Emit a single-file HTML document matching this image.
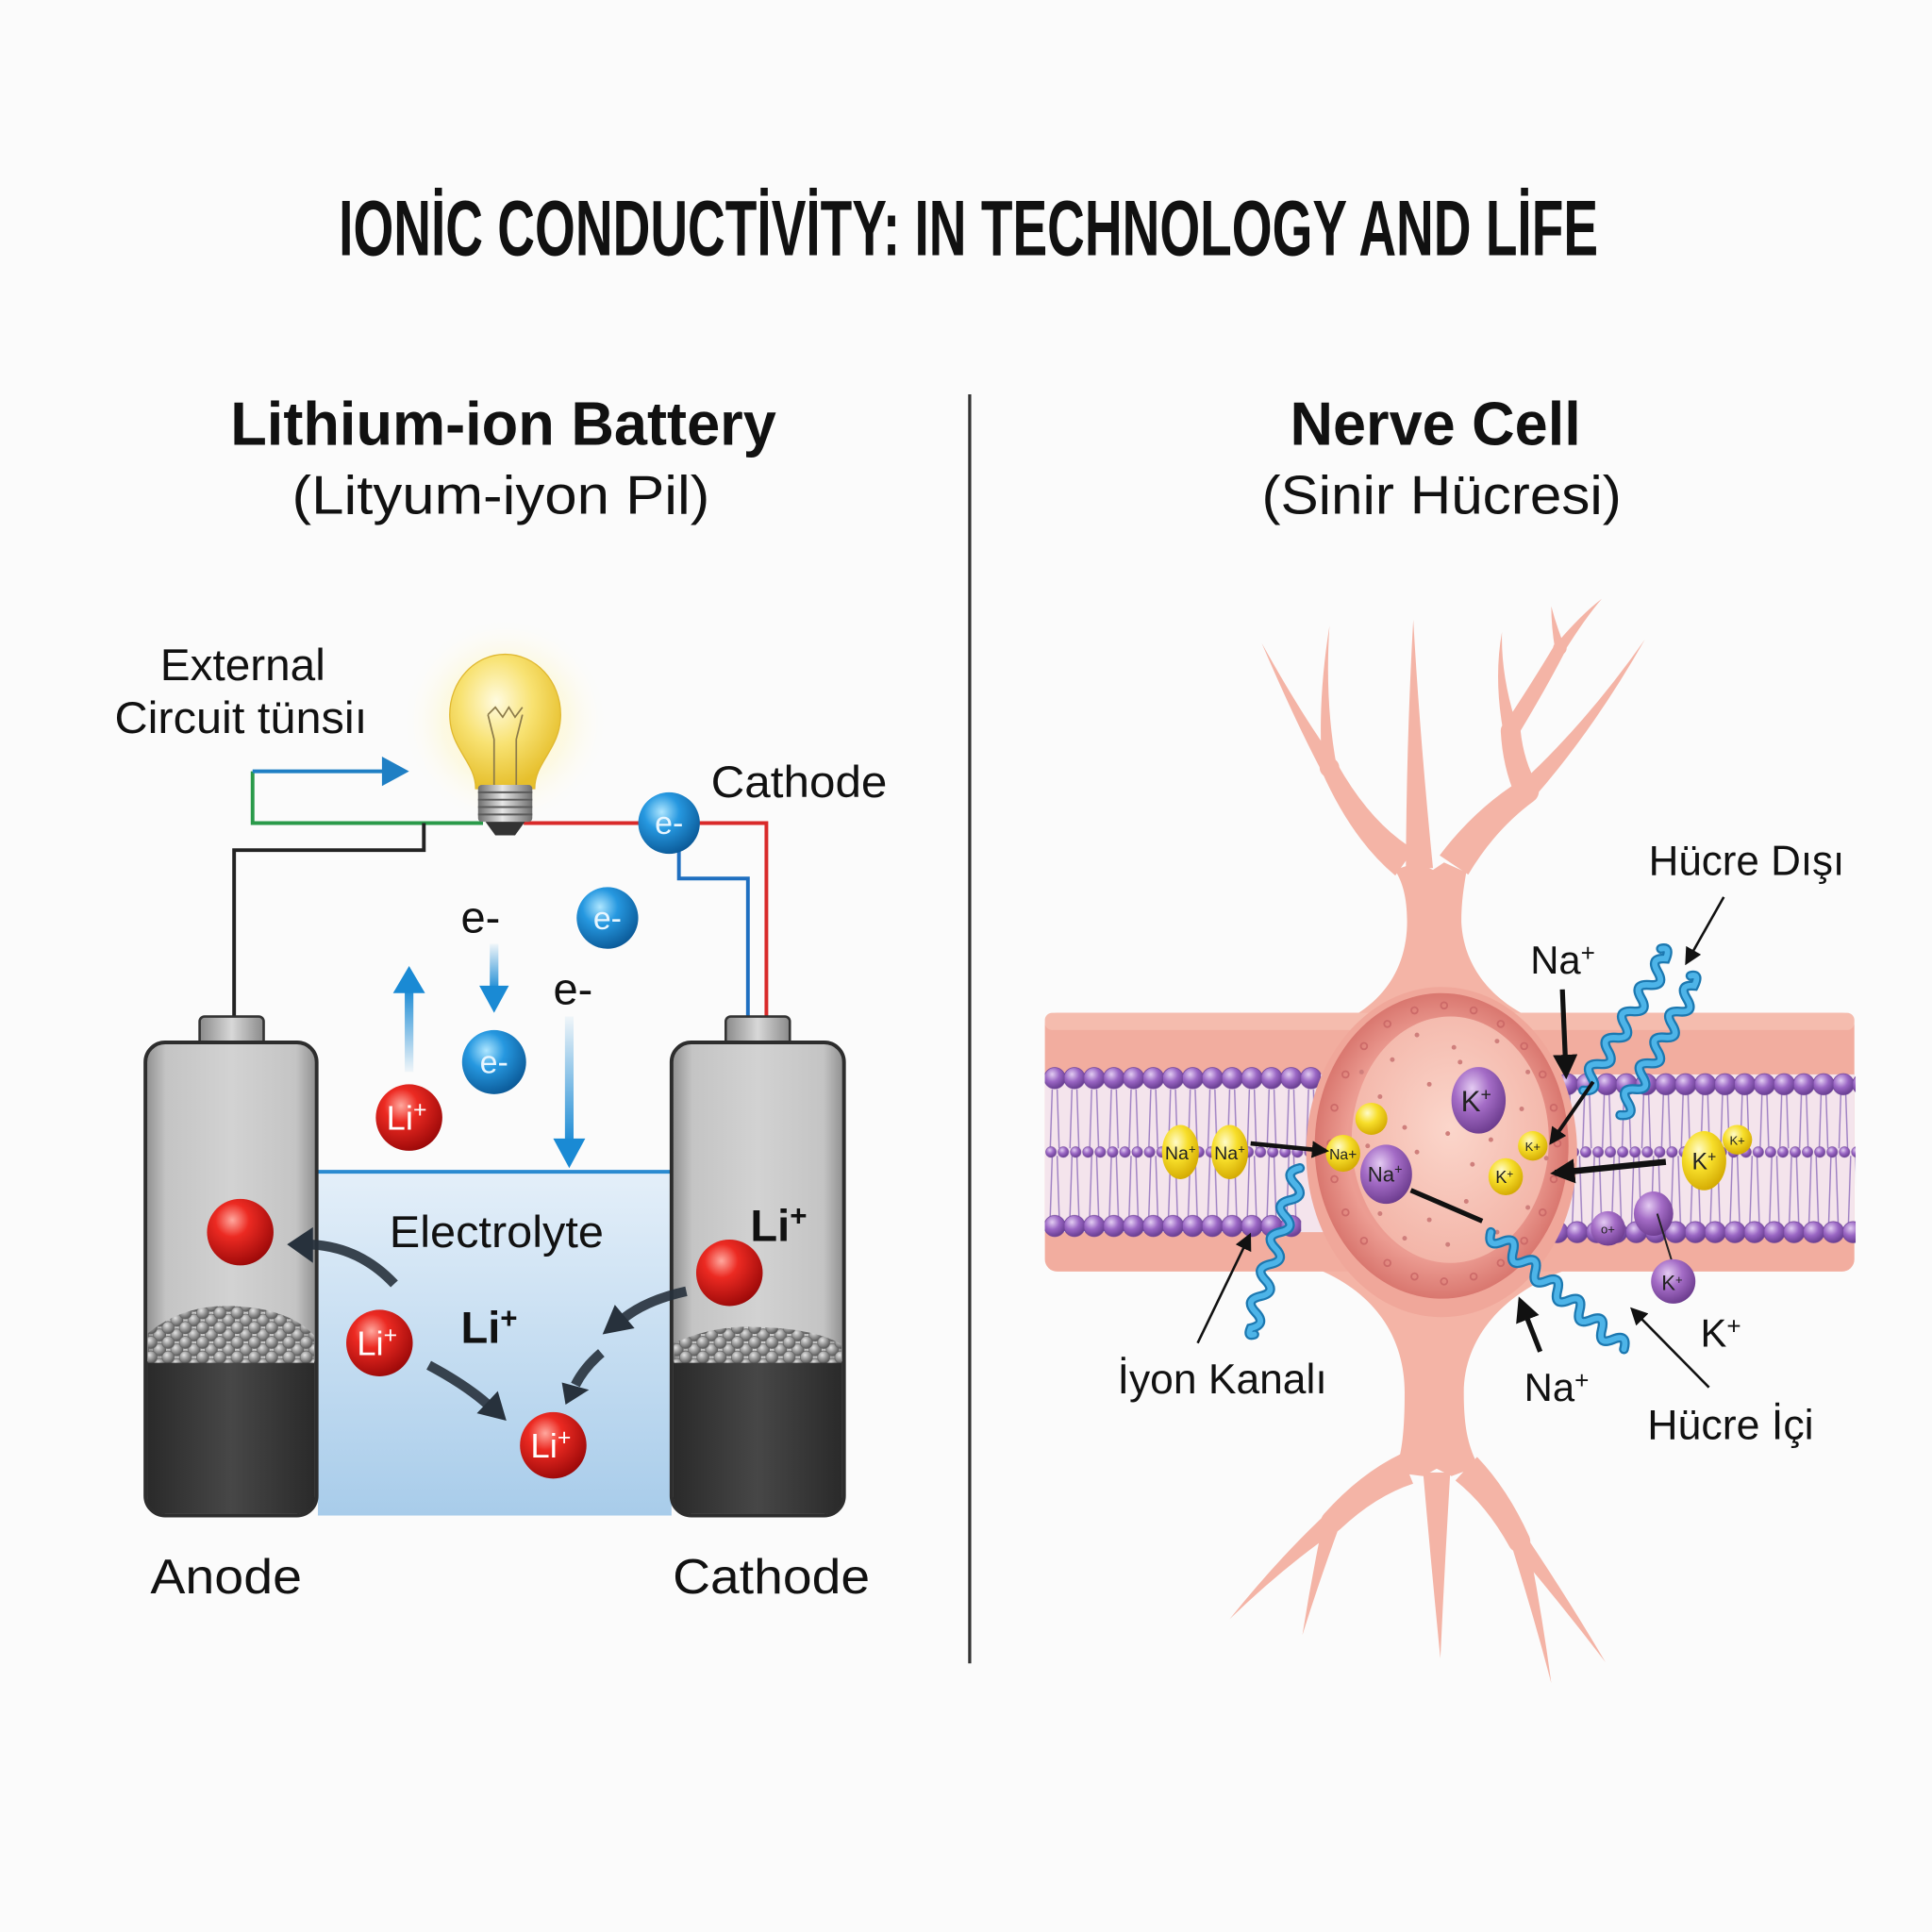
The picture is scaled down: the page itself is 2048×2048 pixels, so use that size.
<!DOCTYPE html>
<html><head><meta charset="utf-8"><style>
html,body{margin:0;padding:0;background:#fbfbfb;}
svg{display:block;}
text{font-family:"Liberation Sans","DejaVu Sans",sans-serif;}
</style></head><body>
<svg xmlns="http://www.w3.org/2000/svg" width="2048" height="2048" viewBox="0 0 1568 1568">
<defs>
<radialGradient id="rg" cx="0.38" cy="0.32" r="0.72"><stop offset="0" stop-color="#ffa89e"/><stop offset="0.35" stop-color="#ec2a22"/><stop offset="1" stop-color="#9a0808"/></radialGradient>
<radialGradient id="bg" cx="0.38" cy="0.32" r="0.72"><stop offset="0" stop-color="#aee6ff"/><stop offset="0.4" stop-color="#2698e0"/><stop offset="1" stop-color="#0a5896"/></radialGradient>
<radialGradient id="yg" cx="0.38" cy="0.32" r="0.72"><stop offset="0" stop-color="#fffbc8"/><stop offset="0.45" stop-color="#f7de2a"/><stop offset="1" stop-color="#d2a800"/></radialGradient>
<radialGradient id="pg" cx="0.38" cy="0.32" r="0.72"><stop offset="0" stop-color="#e4cbf2"/><stop offset="0.45" stop-color="#a46cc6"/><stop offset="1" stop-color="#6a3a8c"/></radialGradient>
<radialGradient id="hg" cx="0.38" cy="0.32" r="0.7"><stop offset="0" stop-color="#e2cdf2"/><stop offset="0.5" stop-color="#9a66c4"/><stop offset="1" stop-color="#673d90"/></radialGradient>
<radialGradient id="grn" cx="0.38" cy="0.32" r="0.7"><stop offset="0" stop-color="#e4e4e4"/><stop offset="0.5" stop-color="#9a9a9a"/><stop offset="1" stop-color="#555"/></radialGradient>
<radialGradient id="glow" cx="0.5" cy="0.5" r="0.5"><stop offset="0" stop-color="#fff3a0" stop-opacity="0.9"/><stop offset="0.6" stop-color="#fff6c0" stop-opacity="0.4"/><stop offset="1" stop-color="#ffffff" stop-opacity="0"/></radialGradient>
<radialGradient id="bulb" cx="0.42" cy="0.35" r="0.65"><stop offset="0" stop-color="#fffbe0"/><stop offset="0.5" stop-color="#f8e272"/><stop offset="1" stop-color="#e6bf2c"/></radialGradient>
<linearGradient id="bat" x1="0" y1="0" x2="1" y2="0"><stop offset="0" stop-color="#8e8e8e"/><stop offset="0.12" stop-color="#c4c4c4"/><stop offset="0.5" stop-color="#d2d2d2"/><stop offset="0.88" stop-color="#c4c4c4"/><stop offset="1" stop-color="#8e8e8e"/></linearGradient>
<linearGradient id="cap" x1="0" y1="0" x2="1" y2="0"><stop offset="0" stop-color="#8a8a8a"/><stop offset="0.5" stop-color="#d8d8d8"/><stop offset="1" stop-color="#8a8a8a"/></linearGradient>
<linearGradient id="dark" x1="0" y1="0" x2="1" y2="0"><stop offset="0" stop-color="#2a2a2a"/><stop offset="0.5" stop-color="#474747"/><stop offset="1" stop-color="#2a2a2a"/></linearGradient>
<linearGradient id="elec" x1="0" y1="0" x2="0" y2="1"><stop offset="0" stop-color="#e4eff9"/><stop offset="1" stop-color="#a8ccea"/></linearGradient>
<linearGradient id="fadeUp" x1="0" y1="0" x2="0" y2="1"><stop offset="0" stop-color="#1a8ad4"/><stop offset="1" stop-color="#1a8ad4" stop-opacity="0.05"/></linearGradient>
<linearGradient id="fadeDown" x1="0" y1="0" x2="0" y2="1"><stop offset="0" stop-color="#1a8ad4" stop-opacity="0.05"/><stop offset="1" stop-color="#1a8ad4"/></linearGradient>
<linearGradient id="base" x1="0" y1="0" x2="1" y2="0"><stop offset="0" stop-color="#6e6e6e"/><stop offset="0.45" stop-color="#e6e6e6"/><stop offset="1" stop-color="#6e6e6e"/></linearGradient>
<radialGradient id="ring" cx="0.5" cy="0.5" r="0.5"><stop offset="0.75" stop-color="#ec9c92"/><stop offset="1" stop-color="#d9776f"/></radialGradient>
<radialGradient id="inner" cx="0.5" cy="0.45" r="0.55"><stop offset="0" stop-color="#fbd6cb"/><stop offset="1" stop-color="#f3b5a8"/></radialGradient>
<pattern id="gran" patternUnits="userSpaceOnUse" width="14" height="12">
 <g fill="url(#grn)" stroke="#606060" stroke-width="0.5">
 <circle cx="3.5" cy="3.5" r="5"/><circle cx="17.5" cy="3.5" r="5"/><circle cx="3.5" cy="15.5" r="5"/><circle cx="17.5" cy="15.5" r="5"/>
 <circle cx="10.5" cy="9.5" r="5"/><circle cx="-3.5" cy="9.5" r="5"/><circle cx="10.5" cy="-2.5" r="5"/><circle cx="-3.5" cy="-2.5" r="5"/>
 </g>
</pattern>
<pattern id="heads" patternUnits="userSpaceOnUse" width="16" height="18">
 <circle cx="8" cy="9" r="8.6" fill="url(#hg)" stroke="#6e4398" stroke-width="0.6"/>
</pattern>
<pattern id="mh" patternUnits="userSpaceOnUse" width="10" height="12">
 <circle cx="5" cy="6" r="4.3" fill="url(#hg)" stroke="#7a52a0" stroke-width="0.5"/>
</pattern>
<pattern id="tails" patternUnits="userSpaceOnUse" width="16" height="60">
 <path d="M6 0 L4 60 M10 0 L12 60" stroke="#9d7fc2" stroke-width="1.1" fill="none"/>
</pattern>
<marker id="ahs" viewBox="0 0 10 10" refX="8" refY="5" markerWidth="14" markerHeight="14" markerUnits="userSpaceOnUse" orient="auto"><path d="M0,0 L10,5 L0,10 z" fill="#111"/></marker>
<marker id="ahb" viewBox="0 0 10 10" refX="8" refY="5" markerWidth="20" markerHeight="20" markerUnits="userSpaceOnUse" orient="auto"><path d="M0,0 L10,5 L0,10 z" fill="#111"/></marker>
</defs>
<rect width="1568" height="1568" fill="#fbfbfb"/>

<!-- Titles -->
<text x="275" y="207" font-size="64" font-weight="bold" textLength="1022" lengthAdjust="spacingAndGlyphs" fill="#111">IONİC CONDUCTİVİTY: IN TECHNOLOGY AND LİFE</text>
<line x1="787" y1="320" x2="787" y2="1350" stroke="#333" stroke-width="2.5"/>
<text x="187" y="361" font-size="50" font-weight="bold" textLength="443" lengthAdjust="spacingAndGlyphs" fill="#111">Lithium-ion Battery</text>
<text x="237" y="417" font-size="44" textLength="339" lengthAdjust="spacingAndGlyphs" fill="#111">(Lityum-iyon Pil)</text>
<text x="1047" y="361" font-size="50" font-weight="bold" textLength="236" lengthAdjust="spacingAndGlyphs" fill="#111">Nerve Cell</text>
<text x="1024" y="417" font-size="44" textLength="292" lengthAdjust="spacingAndGlyphs" fill="#111">(Sinir Hücresi)</text>

<!-- ===== Battery ===== -->
<text x="130" y="552" font-size="36" textLength="134" lengthAdjust="spacingAndGlyphs" fill="#111">External</text>
<text x="93" y="595" font-size="36" textLength="205" lengthAdjust="spacingAndGlyphs" fill="#111">Circuit tünsiı</text>
<text x="577" y="647" font-size="36" textLength="143" lengthAdjust="spacingAndGlyphs" fill="#111">Cathode</text>

<!-- wires -->
<polyline points="205,626 205,668 392,668" fill="none" stroke="#2a9a4a" stroke-width="3"/>
<polyline points="205,626 316,626" fill="none" stroke="#1f7fc4" stroke-width="3"/>
<polygon points="310,614 332,626 310,638" fill="#1f7fc4"/>
<polyline points="190,826 190,690 344,690 344,668" fill="none" stroke="#222" stroke-width="3"/>
<polyline points="425,668 622,668 622,827" fill="none" stroke="#d92a2a" stroke-width="3"/>
<polyline points="551,690 551,713 607,713 607,827" fill="none" stroke="#1f6fc0" stroke-width="3"/>

<!-- bulb -->
<circle cx="410" cy="585" r="85" fill="url(#glow)"/>
<path d="M386 640 C386 618 365 608 365 580 C365 553 385 531 410 531 C435 531 455 553 455 580 C455 608 434 618 434 640 Z" fill="url(#bulb)" stroke="#e0b830" stroke-width="1"/>
<path d="M401 640 L401 600 M419 640 L419 600 M401 600 L396 580 M419 600 L424 580 M396 580 L402 574 L408 582 L413 574 L418 582 L424 574" fill="none" stroke="#8b7a4a" stroke-width="1.3"/>
<rect x="388" y="637" width="44" height="30" rx="3" fill="url(#base)"/>
<path d="M388 643 H432 M388 649 H432 M388 655 H432 M388 661 H432" stroke="#5a5a5a" stroke-width="1.5"/>
<path d="M394 667 H426 L418 678 H402 Z" fill="#333"/>

<circle cx="543" cy="668" r="25" fill="url(#bg)"/>
<text x="543" y="677" font-size="26" text-anchor="middle" fill="#e8f6ff">e-</text>

<!-- electrons & arrows -->
<text x="390" y="757" font-size="36" text-anchor="middle" fill="#111">e-</text>
<text x="465" y="815" font-size="36" text-anchor="middle" fill="#111">e-</text>
<circle cx="493" cy="745" r="25" fill="url(#bg)"/>
<text x="493" y="754" font-size="26" text-anchor="middle" fill="#e8f6ff">e-</text>
<rect x="397.5" y="766" width="7" height="38" fill="url(#fadeDown)"/>
<polygon points="389,800 401,822 413,800" fill="#1a8ad4"/>
<rect x="328.5" y="802" width="7" height="68" fill="url(#fadeUp)"/>
<polygon points="319,806 332,784 345,806" fill="#1a8ad4"/>
<rect x="458.5" y="825" width="7" height="104" fill="url(#fadeDown)"/>
<polygon points="449,924 462,948 475,924" fill="#1a8ad4"/>
<circle cx="401" cy="862" r="26" fill="url(#bg)"/>
<text x="401" y="871" font-size="26" text-anchor="middle" fill="#e8f6ff">e-</text>
<circle cx="332" cy="907" r="27" fill="url(#rg)"/>
<text x="330" y="917" font-size="28" text-anchor="middle" fill="#fff">Li<tspan font-size="19" dy="-10">+</tspan></text>

<!-- electrolyte -->
<rect x="258" y="951" width="287" height="279" fill="url(#elec)"/>
<line x1="258" y1="951" x2="545" y2="951" stroke="#2a8ad0" stroke-width="3"/>

<!-- left battery -->
<rect x="162" y="825" width="52" height="24" rx="4" fill="url(#cap)" stroke="#333" stroke-width="2"/>
<rect x="118" y="846" width="139" height="384" rx="16" fill="url(#bat)"/>
<path d="M119.5 1105 H255.5 V1214 Q255.5 1228.5 241 1228.5 H134 Q119.5 1228.5 119.5 1214 Z" fill="url(#dark)"/>
<path d="M120 1106 L120 1082 Q150 1058 190 1060 Q235 1062 255 1084 L255 1106 Z" fill="url(#gran)"/>
<rect x="118" y="846" width="139" height="384" rx="16" fill="none" stroke="#2d2d2d" stroke-width="3"/>
<!-- right battery -->
<rect x="589" y="825" width="52" height="24" rx="4" fill="url(#cap)" stroke="#333" stroke-width="2"/>
<rect x="545" y="846" width="140" height="384" rx="16" fill="url(#bat)"/>
<path d="M546.5 1105 H683.5 V1214 Q683.5 1228.5 669 1228.5 H561 Q546.5 1228.5 546.5 1214 Z" fill="url(#dark)"/>
<path d="M547 1106 L547 1090 Q580 1075 615 1077 Q660 1078 683 1091 L683 1106 Z" fill="url(#gran)"/>
<rect x="545" y="846" width="140" height="384" rx="16" fill="none" stroke="#2d2d2d" stroke-width="3"/>

<circle cx="195" cy="1000" r="27" fill="url(#rg)"/>
<circle cx="592" cy="1033" r="27" fill="url(#rg)"/>
<text x="609" y="1007" font-size="36" font-weight="bold" fill="#111">Li<tspan font-size="24" dy="-12">+</tspan></text>
<text x="316" y="1012" font-size="36" textLength="174" lengthAdjust="spacingAndGlyphs" fill="#111">Electrolyte</text>
<text x="374" y="1090" font-size="36" font-weight="bold" fill="#111">Li<tspan font-size="24" dy="-12">+</tspan></text>

<circle cx="308" cy="1090" r="27" fill="url(#rg)"/>
<text x="306" y="1100" font-size="28" text-anchor="middle" fill="#fff">Li<tspan font-size="19" dy="-10">+</tspan></text>
<circle cx="449" cy="1173" r="27" fill="url(#rg)"/>
<text x="447" y="1183" font-size="28" text-anchor="middle" fill="#fff">Li<tspan font-size="19" dy="-10">+</tspan></text>

<!-- curved dark arrows -->
<g fill="none" stroke="#27313c" stroke-width="8" stroke-linecap="butt" stroke-opacity="0.9">
 <path d="M320 1042 Q292 1012 252 1010"/>
 <path d="M557 1048 Q525 1055 506 1070"/>
 <path d="M488 1098 Q474 1110 467 1124"/>
 <path d="M348 1108 Q378 1124 396 1140"/>
</g>
<g fill="#27313c">
 <polygon points="254,996 233,1010 254,1025"/>
 <polygon points="499,1059 489,1083 515,1078"/>
 <polygon points="456,1122 459,1140 478,1128"/>
 <polygon points="387,1147 411,1153 404,1129"/>
</g>

<text x="122" y="1293" font-size="40" textLength="123" lengthAdjust="spacingAndGlyphs" fill="#111">Anode</text>
<text x="546" y="1293" font-size="40" textLength="160" lengthAdjust="spacingAndGlyphs" fill="#111">Cathode</text>

<!-- ===== Nerve Cell ===== -->
<g fill="#f4b4a6">
 <!-- top trunk -->
 <path d="M1045 842 C1115 832 1142 792 1142 748 C1142 728 1138 715 1132 706 L1150 700 L1163 706 L1172 700 L1190 708 C1188 720 1186 732 1186 748 C1188 792 1222 832 1300 842 Z"/>
 <path d="M1147.6 689.4 Q1112.6 668.5 1085.3 619.9 L1072.7 626.1 Q1097.4 681.5 1132.4 710.6 Z"/>
 <path d="M1163 704.5 Q1152.5 600 1147 503 Q1141.5 600 1141 705.5 Z"/>
 <path d="M1084.9 619.3 Q1058.2 583.4 1024 522 Q1051.8 586.6 1073.1 626.7 Z"/>
 <path d="M1084.9 622.2 Q1075 569.6 1079 508 Q1069 570.4 1073.1 623.8 Z"/>
 <path d="M1191.6 709.8 Q1213.3 673.3 1244.6 650.3 L1233.4 633.7 Q1196.7 656.7 1168.4 694.2 Z"/>
 <path d="M1244.7 647.6 Q1292.9 592.8 1335 519 Q1287.1 587.2 1233.3 636.4 Z"/>
 <path d="M1247.9 637.5 Q1236.5 617.7 1234 592.4 L1218 593.6 Q1219.5 622.3 1230.1 646.5 Z"/>
 <path d="M1231.8 591.5 Q1217.9 549.3 1219 513 Q1212.1 550.7 1220.2 594.5 Z"/>
 <path d="M1231.9 596.7 Q1255.2 558.1 1270.4 528.4 L1261.6 523.6 Q1244.8 551.9 1220.1 589.3 Z"/>
 <path d="M1269.6 528.7 Q1286.8 501.3 1300 486 Q1283.2 498.7 1262.4 523.3 Z"/>
 <path d="M1269.9 524.9 Q1263 507.5 1259 492 Q1259 508.5 1262.1 527.1 Z"/>
 <circle cx="1079" cy="623" r="8"/><circle cx="1239" cy="642" r="10"/><circle cx="1226" cy="593" r="8"/><circle cx="1266" cy="526" r="5.5"/>
 <!-- bottom trunk -->
 <path d="M1045 1022 C1115 1040 1140 1085 1140 1130 C1140 1160 1138 1180 1132 1195 L1155 1198 L1166 1192 L1178 1198 L1200 1190 C1192 1175 1188 1160 1188 1130 C1188 1085 1222 1040 1300 1022 Z"/>
 <path d="M1137.1 1179.9 Q1103.8 1195.9 1074.5 1228.7 L1087.5 1241.3 Q1116.2 1214.1 1146.9 1204.1 Z"/>
 <path d="M1076 1228.8 Q1037.5 1264.9 998 1314 Q1042.5 1271.1 1086 1241.2 Z"/>
 <path d="M1074.3 1233.1 Q1064.6 1279 1057 1327 Q1071.4 1281 1087.7 1236.9 Z"/>
 <path d="M1155 1195 Q1161.5 1270 1169 1346 Q1172.5 1270 1177 1195 Z"/>
 <path d="M1181.2 1201.6 Q1206.3 1221.5 1224.9 1255 L1241.1 1247 Q1223.7 1208.5 1198.8 1182.4 Z"/>
 <path d="M1226.2 1252.7 Q1244.6 1310.9 1259 1366 Q1251.4 1309.1 1239.8 1249.3 Z"/>
 <path d="M1227.4 1255.2 Q1267.2 1302.1 1303 1349 Q1272.8 1297.9 1238.6 1246.8 Z"/>
 <circle cx="1081" cy="1235" r="9"/><circle cx="1233" cy="1251" r="9"/>
</g>

<!-- membrane -->
<rect x="848" y="822" width="657" height="210" rx="10" fill="#f2ad9f"/>
<rect x="848" y="822" width="657" height="14" rx="6" fill="#f5bcae"/>
<rect x="848" y="872" width="657" height="128" fill="#f4e4ec"/>
<!-- tails -->
<g transform="translate(848,884)"><rect width="224" height="48" fill="url(#tails)"/></g>
<g transform="translate(848,938)"><rect width="208" height="52" fill="url(#tails)"/></g>
<g transform="translate(1264,888)"><rect width="242" height="44" fill="url(#tails)"/></g>
<g transform="translate(1256,938)"><rect width="250" height="56" fill="url(#tails)"/></g>
<!-- heads -->
<g transform="translate(848,866)"><rect width="224" height="18" fill="url(#heads)"/></g>
<g transform="translate(1264,871)"><rect width="242" height="18" fill="url(#heads)"/></g>
<g transform="translate(848,986)"><rect width="208" height="18" fill="url(#heads)"/></g>
<g transform="translate(1256,991)"><rect width="250" height="18" fill="url(#heads)"/></g>
<g transform="translate(848,929)"><rect width="220" height="12" fill="url(#mh)"/></g>
<g transform="translate(1262,929)"><rect width="244" height="12" fill="url(#mh)"/></g>

<!-- soma -->
<ellipse cx="1170" cy="935" rx="110" ry="134" fill="#f0a79a"/>
<ellipse cx="1170" cy="930" rx="103" ry="124" fill="url(#ring)"/>
<ellipse cx="1177" cy="925" rx="80" ry="100" fill="url(#inner)"/>
<g fill="none" stroke="#c86464" stroke-width="1.4" opacity="0.8">
 <circle cx="1264" cy="928" r="2.6"/><circle cx="1261" cy="957" r="2.6"/><circle cx="1252" cy="984" r="2.6"/><circle cx="1237" cy="1007" r="2.6"/><circle cx="1218" cy="1025" r="2.6"/><circle cx="1196" cy="1036" r="2.6"/><circle cx="1172" cy="1040" r="2.6"/><circle cx="1148" cy="1036" r="2.6"/><circle cx="1126" cy="1025" r="2.6"/><circle cx="1107" cy="1007" r="2.6"/><circle cx="1092" cy="984" r="2.6"/><circle cx="1083" cy="957" r="2.6"/><circle cx="1080" cy="928" r="2.6"/><circle cx="1083" cy="899" r="2.6"/><circle cx="1092" cy="872" r="2.6"/><circle cx="1107" cy="849" r="2.6"/><circle cx="1126" cy="831" r="2.6"/><circle cx="1148" cy="820" r="2.6"/><circle cx="1172" cy="816" r="2.6"/><circle cx="1196" cy="820" r="2.6"/><circle cx="1218" cy="831" r="2.6"/><circle cx="1237" cy="849" r="2.6"/><circle cx="1252" cy="872" r="2.6"/><circle cx="1261" cy="899" r="2.6"/>
</g>
<g fill="#cf7f7c">
 <circle cx="1130" cy="860" r="1.9"/><circle cx="1150" cy="840" r="1.9"/><circle cx="1180" cy="850" r="1.9"/><circle cx="1215" cy="845" r="1.9"/><circle cx="1240" cy="870" r="1.9"/><circle cx="1120" cy="890" r="1.9"/><circle cx="1160" cy="880" r="1.9"/><circle cx="1235" cy="900" r="1.9"/><circle cx="1140" cy="915" r="1.9"/><circle cx="1175" cy="920" r="1.9"/><circle cx="1210" cy="925" r="1.9"/><circle cx="1110" cy="930" r="1.9"/><circle cx="1255" cy="940" r="1.9"/><circle cx="1160" cy="990" r="1.9"/><circle cx="1190" cy="975" r="1.9"/><circle cx="1215" cy="1000" r="1.9"/><circle cx="1140" cy="1005" r="1.9"/><circle cx="1175" cy="1010" r="1.9"/><circle cx="1240" cy="980" r="1.9"/><circle cx="1120" cy="985" r="1.9"/><circle cx="1195" cy="945" r="1.9"/><circle cx="1150" cy="935" r="1.9"/><circle cx="1230" cy="1015" r="1.9"/><circle cx="1185" cy="862" r="1.9"/><circle cx="1105" cy="870" r="1.9"/>
</g>

<!-- squiggles -->
<g fill="none" stroke-linecap="round">
 <g stroke="#1c78b0" stroke-width="8">
  <path d="M1285 885 Q1298.6 886.1 1291.7 874.3 T1298.4 863.6 T1305.1 852.9 T1311.8 842.2 T1318.5 831.5 T1325.2 820.8 T1331.9 810.1 T1338.6 799.4 T1345.3 788.7 T1352 778 Q1356 768 1348 770"/>
  <path d="M1315 905 Q1328.2 906.2 1321 894.5 T1327 884 T1333 873.5 T1339 863 T1345 852.5 T1351 842 T1357 831.5 T1363 821 T1369 810.5 T1375 800 Q1380 790 1372 792"/>
  <path d="M1055 948 Q1041.5 951 1051 961 T1047 974 T1043 987 T1039 1000 T1035 1013 T1031 1026 T1027 1039 T1023 1052 T1019 1065 T1015 1078 Q1012 1085 1018 1083"/>
  <path d="M1210 1000 Q1206.6 1013 1219 1007.9 T1228 1015.8 T1237 1023.8 T1246 1031.7 T1255 1039.6 T1264 1047.5 T1273 1055.4 T1282 1063.4 T1291 1071.3 T1300 1079.2 T1309 1087.1 T1318 1095"/>
 </g>
 <g stroke="#4db4e8" stroke-width="4.5">
  <path d="M1285 885 Q1298.6 886.1 1291.7 874.3 T1298.4 863.6 T1305.1 852.9 T1311.8 842.2 T1318.5 831.5 T1325.2 820.8 T1331.9 810.1 T1338.6 799.4 T1345.3 788.7 T1352 778 Q1356 768 1348 770"/>
  <path d="M1315 905 Q1328.2 906.2 1321 894.5 T1327 884 T1333 873.5 T1339 863 T1345 852.5 T1351 842 T1357 831.5 T1363 821 T1369 810.5 T1375 800 Q1380 790 1372 792"/>
  <path d="M1055 948 Q1041.5 951 1051 961 T1047 974 T1043 987 T1039 1000 T1035 1013 T1031 1026 T1027 1039 T1023 1052 T1019 1065 T1015 1078 Q1012 1085 1018 1083"/>
  <path d="M1210 1000 Q1206.6 1013 1219 1007.9 T1228 1015.8 T1237 1023.8 T1246 1031.7 T1255 1039.6 T1264 1047.5 T1273 1055.4 T1282 1063.4 T1291 1071.3 T1300 1079.2 T1309 1087.1 T1318 1095"/>
 </g>
</g>

<!-- ions -->
<ellipse cx="958" cy="935" rx="15" ry="22" fill="url(#yg)"/>
<ellipse cx="998" cy="935" rx="15" ry="22" fill="url(#yg)"/>
<text x="958" y="941" font-size="15" text-anchor="middle" fill="#222">Na<tspan font-size="10" dy="-5">+</tspan></text>
<text x="998" y="941" font-size="15" text-anchor="middle" fill="#222">Na<tspan font-size="10" dy="-5">+</tspan></text>
<ellipse cx="1090" cy="936" rx="14" ry="15" fill="url(#yg)"/>
<text x="1090" y="941" font-size="12" text-anchor="middle" fill="#222">Na+</text>
<line x1="1015" y1="928" x2="1076" y2="934" stroke="#111" stroke-width="3.5" marker-end="url(#ahs)"/>
<circle cx="1113" cy="908" r="13" fill="url(#yg)"/>
<ellipse cx="1200" cy="893" rx="22" ry="27" fill="url(#pg)"/>
<text x="1198" y="902" font-size="24" text-anchor="middle" fill="#222">K<tspan font-size="15" dy="-9">+</tspan></text>
<ellipse cx="1125" cy="953" rx="21" ry="24" fill="url(#pg)"/>
<text x="1124" y="959" font-size="17" text-anchor="middle" fill="#222">Na<tspan font-size="11" dy="-6">+</tspan></text>
<circle cx="1244" cy="930" r="12" fill="url(#yg)"/>
<text x="1244" y="934" font-size="10" text-anchor="middle" fill="#222">K+</text>
<ellipse cx="1222" cy="955" rx="14" ry="15" fill="url(#yg)"/>
<text x="1221" y="960" font-size="14" text-anchor="middle" fill="#222">K<tspan font-size="9" dy="-4">+</tspan></text>
<line x1="1145" y1="966" x2="1203" y2="991" stroke="#111" stroke-width="4"/>
<line x1="1352" y1="943" x2="1262" y2="952" stroke="#111" stroke-width="5" marker-end="url(#ahb)"/>
<line x1="1268" y1="803" x2="1271" y2="872" stroke="#111" stroke-width="4" marker-end="url(#ahb)"/>
<line x1="1293" y1="878" x2="1259" y2="927" stroke="#111" stroke-width="3" marker-end="url(#ahs)"/>
<ellipse cx="1383" cy="942" rx="18" ry="24" fill="url(#yg)"/>
<text x="1383" y="949" font-size="19" text-anchor="middle" fill="#222">K<tspan font-size="12" dy="-6">+</tspan></text>
<circle cx="1410" cy="925" r="12" fill="url(#yg)"/>
<text x="1410" y="929" font-size="10" text-anchor="middle" fill="#222">K+</text>
<circle cx="1305" cy="997" r="14" fill="url(#pg)"/>
<text x="1305" y="1001" font-size="10" text-anchor="middle" fill="#222">o+</text>
<ellipse cx="1342" cy="985" rx="16" ry="18" fill="url(#pg)"/>
<line x1="1345" y1="985" x2="1357" y2="1024" stroke="#222" stroke-width="1.5"/>
<circle cx="1358" cy="1040" r="18" fill="url(#pg)"/>
<text x="1357" y="1047" font-size="17" text-anchor="middle" fill="#222">K<tspan font-size="10" dy="-5">+</tspan></text>

<!-- label arrows -->
<line x1="1399" y1="728" x2="1369" y2="781" stroke="#111" stroke-width="2" marker-end="url(#ahs)"/>
<line x1="972" y1="1090" x2="1014" y2="1003" stroke="#111" stroke-width="2" marker-end="url(#ahs)"/>
<line x1="1250" y1="1097" x2="1234" y2="1056" stroke="#111" stroke-width="4" marker-end="url(#ahb)"/>
<line x1="1387" y1="1126" x2="1325" y2="1063" stroke="#111" stroke-width="2" marker-end="url(#ahs)"/>

<!-- nerve labels -->
<text x="1338" y="710" font-size="34" textLength="159" lengthAdjust="spacingAndGlyphs" fill="#111">Hücre Dışı</text>
<text x="1242" y="790" font-size="32" fill="#111">Na<tspan font-size="20" dy="-10">+</tspan></text>
<text x="907" y="1131" font-size="34" textLength="170" lengthAdjust="spacingAndGlyphs" fill="#111">İyon Kanalı</text>
<text x="1237" y="1137" font-size="32" fill="#111">Na<tspan font-size="20" dy="-10">+</tspan></text>
<text x="1380" y="1093" font-size="32" fill="#111">K<tspan font-size="20" dy="-10">+</tspan></text>
<text x="1337" y="1168" font-size="34" textLength="135" lengthAdjust="spacingAndGlyphs" fill="#111">Hücre İçi</text>
</svg>
</body></html>
